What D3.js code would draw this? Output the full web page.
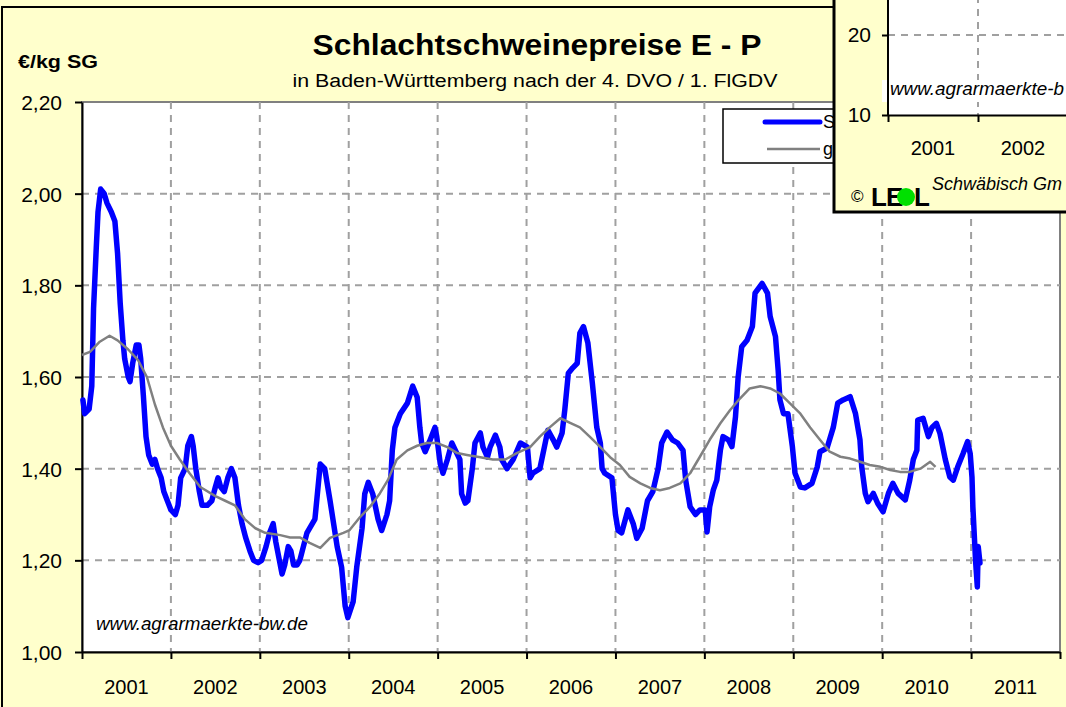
<!DOCTYPE html>
<html>
<head>
<meta charset="utf-8">
<script src="https://cdn.jsdelivr.net/npm/d3@7"></script>
<style>
  html, body { margin: 0; padding: 0; background: #ffffcc; overflow: hidden; }
  text { font-family: "Liberation Sans", Arial, Helvetica, sans-serif; fill: #000; }
</style>
</head>
<body>
<svg id="chart" width="1066" height="707"></svg>
<script>
// ---- data ----------------------------------------------------------------
const years = ["2001","2002","2003","2004","2005","2006","2007","2008","2009","2010","2011"];
const yTickValues = [1.0, 1.2, 1.4, 1.6, 1.8, 2.0, 2.2];

// weekly price (decimal year, €/kg SG)
const priceDates = [
  2001.01,2001.03,2001.08,2001.11,2001.13,2001.16,2001.18,2001.21,2001.25,2001.28,2001.33,2001.37,2001.40,2001.43,2001.46,2001.48,
  2001.52,2001.54,2001.57,2001.61,2001.64,2001.66,2001.69,2001.72,2001.75,2001.79,2001.82,2001.85,2001.89,2001.92,2001.96,
  2002.00,2002.05,2002.08,2002.11,2002.16,2002.19,2002.23,2002.25,2002.28,2002.32,2002.35,2002.41,2002.46,2002.50,2002.53,2002.56,
  2002.60,2002.64,2002.68,2002.72,2002.76,2002.80,2002.84,2002.89,2002.93,2002.98,
  2003.02,2003.07,2003.11,2003.15,2003.18,2003.22,2003.25,2003.28,2003.32,2003.35,2003.38,2003.42,2003.45,2003.53,2003.62,2003.68,
  2003.73,2003.79,2003.87,2003.92,2003.96,2003.99,
  2004.05,2004.09,2004.15,2004.18,2004.22,2004.27,2004.33,2004.37,2004.43,2004.46,2004.49,2004.52,2004.58,2004.66,2004.72,2004.77,
  2004.80,2004.82,2004.86,2004.91,2004.97,2004.99,
  2005.03,2005.06,2005.11,2005.16,2005.20,2005.25,2005.27,2005.31,2005.34,2005.39,2005.42,2005.48,2005.51,2005.56,2005.59,2005.65,
  2005.70,2005.72,2005.78,2005.85,2005.93,
  2006.01,2006.04,2006.07,2006.15,2006.21,2006.24,2006.30,2006.34,2006.40,2006.43,2006.47,2006.52,2006.57,2006.60,2006.64,2006.69,
  2006.74,2006.79,2006.83,2006.85,2006.88,2006.96,
  2007.00,2007.03,2007.07,2007.14,2007.20,2007.24,2007.30,2007.36,2007.42,2007.48,2007.52,2007.58,2007.64,2007.70,2007.76,2007.79,
  2007.84,2007.90,2007.95,
  2008.01,2008.03,2008.06,2008.10,2008.14,2008.18,2008.21,2008.27,2008.31,2008.35,2008.38,2008.42,2008.48,2008.54,2008.57,2008.65,
  2008.71,2008.74,2008.80,2008.83,2008.85,2008.89,2008.94,2008.99,
  2009.02,2009.08,2009.13,2009.21,2009.27,2009.30,2009.38,2009.45,2009.50,2009.56,2009.64,2009.70,2009.75,2009.77,2009.81,2009.84,
  2009.90,2009.95,
  2010.01,2010.07,2010.12,2010.18,2010.26,2010.31,2010.35,2010.39,2010.40,2010.46,2010.52,2010.56,2010.61,2010.65,2010.71,2010.76,
  2010.80,2010.85,2010.91,2010.96,2010.99,
  2011.01,2011.02,2011.05,2011.07,2011.08,2011.10
];
const priceValues = [
  1.55,1.52,1.53,1.58,1.75,1.88,1.96,2.01,2.00,1.98,1.96,1.94,1.87,1.76,1.68,1.64,
  1.60,1.59,1.63,1.67,1.67,1.64,1.56,1.47,1.43,1.41,1.42,1.40,1.38,1.35,1.33,
  1.31,1.30,1.32,1.38,1.40,1.45,1.47,1.45,1.40,1.35,1.32,1.32,1.33,1.36,1.38,1.36,
  1.35,1.38,1.40,1.38,1.32,1.28,1.25,1.22,1.20,1.195,
  1.20,1.23,1.26,1.28,1.24,1.20,1.17,1.19,1.23,1.22,1.19,1.19,1.20,1.26,1.29,1.41,
  1.40,1.33,1.23,1.185,1.10,1.075,
  1.11,1.185,1.27,1.345,1.37,1.345,1.29,1.265,1.30,1.33,1.44,1.49,1.52,1.543,1.58,1.556,
  1.49,1.456,1.437,1.46,1.49,1.47,
  1.41,1.39,1.42,1.456,1.44,1.42,1.345,1.325,1.33,1.40,1.456,1.478,1.447,1.425,1.447,1.473,
  1.447,1.42,1.40,1.42,1.456,
  1.447,1.38,1.39,1.40,1.456,1.484,1.463,1.447,1.478,1.528,1.608,1.62,1.63,1.696,1.71,1.674,
  1.587,1.49,1.456,1.40,1.39,1.38,
  1.30,1.265,1.26,1.31,1.28,1.248,1.27,1.33,1.35,1.40,1.456,1.48,1.463,1.456,1.44,1.375,
  1.317,1.30,1.31,
  1.31,1.262,1.317,1.353,1.375,1.44,1.47,1.463,1.448,1.513,1.60,1.666,1.68,1.71,1.783,1.804,
  1.783,1.732,1.688,1.615,1.55,1.52,1.52,1.448,
  1.39,1.36,1.358,1.368,1.404,1.437,1.445,1.49,1.543,1.55,1.557,1.52,1.463,1.404,1.346,1.328,
  1.346,1.324,
  1.306,1.346,1.368,1.346,1.332,1.375,1.42,1.44,1.506,1.51,1.47,1.49,1.499,1.477,1.42,1.382,
  1.375,1.404,1.433,1.459,1.433,
  1.382,1.317,1.20,1.142,1.23,1.194
];

// moving average (decimal year, €/kg SG)
const avgDates = [
  2001.00,2001.09,2001.20,2001.31,2001.40,2001.52,2001.63,2001.73,2001.82,2001.91,
  2002.00,2002.10,2002.21,2002.33,2002.50,2002.61,2002.72,2002.83,2002.95,
  2003.06,2003.23,2003.34,2003.45,2003.56,2003.68,2003.79,2003.94,
  2004.01,2004.13,2004.24,2004.35,2004.44,2004.54,2004.66,2004.77,2004.88,2004.99,
  2005.11,2005.22,2005.33,2005.48,2005.62,2005.76,2005.89,
  2006.04,2006.15,2006.26,2006.38,2006.49,2006.60,2006.71,2006.83,2006.94,
  2007.05,2007.16,2007.28,2007.39,2007.50,2007.61,2007.73,2007.84,2007.95,
  2008.06,2008.18,2008.29,2008.40,2008.51,2008.63,2008.74,2008.85,2008.96,
  2009.08,2009.19,2009.30,2009.41,2009.53,2009.64,2009.75,2009.86,2009.98,
  2010.09,2010.20,2010.31,2010.43,2010.54,2010.60
];
const avgValues = [
  1.648,1.655,1.677,1.69,1.68,1.66,1.637,1.60,1.54,1.49,
  1.45,1.42,1.39,1.36,1.34,1.33,1.32,1.29,1.27,
  1.26,1.255,1.25,1.25,1.238,1.227,1.249,1.26,
  1.266,1.295,1.317,1.346,1.375,1.42,1.44,1.45,1.456,1.456,
  1.447,1.434,1.43,1.425,1.42,1.42,1.434,
  1.447,1.47,1.49,1.51,1.50,1.49,1.47,1.447,1.425,
  1.408,1.382,1.368,1.358,1.353,1.358,1.368,1.39,1.426,
  1.463,1.499,1.528,1.553,1.575,1.58,1.575,1.564,1.543,
  1.52,1.49,1.463,1.437,1.426,1.422,1.415,1.408,1.404,
  1.397,1.393,1.393,1.40,1.415,1.404
];

// small overlapping chart in the upper right corner
const insetYears = ["2001", "2002", "2003"];
const insetTickValues = [10, 20];

// ---- drawing --------------------------------------------------------------
const svg = d3.select("#chart");
const W = 1066, H = 707;
const plot = { left: 82, right: 1060, top: 102, bottom: 652 };

svg.append("rect").attr("width", W).attr("height", H).attr("fill", "#ffffcc");
// outer chart frame
svg.append("path").attr("d", "M2,712V7H1072").attr("fill", "none")
  .attr("stroke", "#000").attr("stroke-width", 2);

const x = d3.scaleLinear().domain([2001, 2012]).range([plot.left, plot.right]);
const y = d3.scaleLinear().domain([1.0, 2.2]).range([plot.bottom, plot.top]);
const fmt = v => d3.format(".2f")(v).replace(".", ",");

svg.append("rect")
  .attr("x", plot.left).attr("y", plot.top)
  .attr("width", plot.right - plot.left).attr("height", plot.bottom - plot.top)
  .attr("fill", "#fff").attr("stroke", "#808080").attr("stroke-width", 2);

// grid
const grid = svg.append("g").attr("stroke", "#a0a0a0").attr("stroke-width", 2)
  .attr("stroke-dasharray", "7,6");
grid.selectAll("line.h").data(yTickValues.filter(v => v > 1.0 && v < 2.2)).join("line")
  .attr("class", "h")
  .attr("x1", plot.left).attr("x2", plot.right)
  .attr("y1", d => y(d)).attr("y2", d => y(d));
const yearStarts = years.map(d => +d);
grid.selectAll("line.v").data(yearStarts.slice(1)).join("line")
  .attr("class", "v")
  .attr("y1", plot.top).attr("y2", plot.bottom)
  .attr("x1", d => x(d)).attr("x2", d => x(d));

// axes
const yAxis = svg.append("g").attr("transform", `translate(${plot.left},0)`)
  .call(d3.axisLeft(y).tickValues(yTickValues).tickSize(7).tickSizeOuter(0).tickFormat(""));
const xAxis = svg.append("g").attr("transform", `translate(0,${plot.bottom})`)
  .call(d3.axisBottom(x).tickValues(yearStarts.concat([2012])).tickSize(7).tickSizeOuter(0).tickFormat(""));
[yAxis, xAxis].forEach(a => {
  a.select(".domain").attr("stroke", "#000").attr("stroke-width", 2);
  a.selectAll(".tick line").attr("stroke", "#000").attr("stroke-width", 2);
});

svg.append("g").selectAll("text").data(yTickValues).join("text")
  .attr("x", 62).attr("y", d => y(d) + 8)
  .attr("text-anchor", "end").attr("font-size", 21)
  .text(d => fmt(d));

svg.append("g").selectAll("text").data(years).join("text")
  .attr("x", d => x(+d + 0.5)).attr("y", 694)
  .attr("text-anchor", "middle").attr("font-size", 20)
  .text(d => d);

// series
const pricePoints = priceDates.map((d, i) => [d, priceValues[i]]);
const avgPoints = avgDates.map((d, i) => [d, avgValues[i]]);
const line = d3.line().x(d => x(d[0])).y(d => y(d[1]));

svg.append("path").datum(pricePoints).attr("d", line)
  .attr("fill", "none").attr("stroke", "#0000ff").attr("stroke-width", 5.5)
  .attr("stroke-linejoin", "round").attr("stroke-linecap", "round");
svg.append("path").datum(avgPoints).attr("d", line)
  .attr("fill", "none").attr("stroke", "#808080").attr("stroke-width", 2.5)
  .attr("stroke-linejoin", "round");

// titles
svg.append("text").attr("x", 537).attr("y", 55).attr("text-anchor", "middle")
  .attr("font-size", 29).attr("font-weight", "bold")
  .attr("textLength", 449).attr("lengthAdjust", "spacingAndGlyphs")
  .text("Schlachtschweinepreise E - P");
svg.append("text").attr("x", 535).attr("y", 87).attr("text-anchor", "middle")
  .attr("font-size", 18)
  .attr("textLength", 485).attr("lengthAdjust", "spacingAndGlyphs")
  .text("in Baden-Württemberg nach der 4. DVO / 1. FlGDV");
svg.append("text").attr("x", 18).attr("y", 68)
  .attr("font-size", 18).attr("font-weight", "bold")
  .attr("textLength", 80).attr("lengthAdjust", "spacingAndGlyphs")
  .text("€/kg SG");

svg.append("text").attr("x", 96).attr("y", 630)
  .attr("font-size", 18).attr("font-style", "italic")
  .attr("textLength", 212).attr("lengthAdjust", "spacingAndGlyphs")
  .text("www.agrarmaerkte-bw.de");

// legend (its right part lies under the small chart)
svg.append("clipPath").attr("id", "legendClip")
  .append("rect").attr("x", 700).attr("y", 100).attr("width", 134).attr("height", 80);
const legend = svg.append("g").attr("clip-path", "url(#legendClip)");
legend.append("rect").attr("x", 723).attr("y", 109).attr("width", 140).attr("height", 54)
  .attr("fill", "#fff").attr("stroke", "#000").attr("stroke-width", 1.5);
legend.append("line").attr("x1", 765).attr("x2", 820).attr("y1", 122).attr("y2", 122)
  .attr("stroke", "#0000ff").attr("stroke-width", 5).attr("stroke-linecap", "round");
legend.append("line").attr("x1", 767).attr("x2", 820).attr("y1", 149).attr("y2", 149)
  .attr("stroke", "#808080").attr("stroke-width", 2.5);
legend.append("text").attr("x", 823).attr("y", 128).attr("font-size", 18).text("S");
legend.append("text").attr("x", 823).attr("y", 155).attr("font-size", 18).text("g");

// ---- overlapping small chart --------------------------------------------
const inset = svg.append("g");
const ip = { left: 888, right: 1160, top: -30, bottom: 115 };
inset.append("rect").attr("x", 834).attr("y", -30).attr("width", 300).attr("height", 242)
  .attr("fill", "#ffffcc").attr("stroke", "#000").attr("stroke-width", 3);
inset.append("rect").attr("x", ip.left).attr("y", ip.top)
  .attr("width", ip.right - ip.left).attr("height", ip.bottom - ip.top).attr("fill", "#fff");

const ix = d3.scaleLinear().domain([2001, 2004]).range([888, 1158]);
const iy = d3.scaleLinear().domain([10, 20]).range([115, 35]);

const igrid = inset.append("g").attr("stroke", "#a0a0a0").attr("stroke-width", 2)
  .attr("stroke-dasharray", "7,6");
igrid.append("line").attr("x1", ip.left).attr("x2", ip.right)
  .attr("y1", iy(20)).attr("y2", iy(20));
igrid.selectAll("line.v").data([2002, 2003]).join("line").attr("class", "v")
  .attr("x1", d => ix(d)).attr("x2", d => ix(d)).attr("y1", ip.top).attr("y2", ip.bottom);

// white label box behind the site address
inset.append("rect").attr("x", 882).attr("y", 80).attr("width", 200).attr("height", 22).attr("fill", "#fff");
inset.append("text").attr("x", 890).attr("y", 95)
  .attr("font-size", 18).attr("font-style", "italic")
  .attr("textLength", 174).attr("lengthAdjust", "spacingAndGlyphs")
  .text("www.agrarmaerkte-b");

const iyAxis = inset.append("g").attr("transform", `translate(${ip.left},0)`)
  .call(d3.axisLeft(iy).tickValues(insetTickValues).tickSize(6).tickSizeOuter(0).tickFormat(""));
const ixAxis = inset.append("g").attr("transform", `translate(0,${ip.bottom})`)
  .call(d3.axisBottom(ix).tickValues([2001, 2002, 2003]).tickSize(7).tickSizeOuter(0).tickFormat(""));
iyAxis.select(".domain").attr("d", `M0,${ip.top}V${ip.bottom}`);
[iyAxis, ixAxis].forEach(a => {
  a.select(".domain").attr("stroke", "#000").attr("stroke-width", 2);
  a.selectAll(".tick line").attr("stroke", "#000").attr("stroke-width", 2);
});
inset.append("g").selectAll("text").data(insetTickValues).join("text")
  .attr("x", 871).attr("y", d => iy(d) + 7).attr("text-anchor", "end").attr("font-size", 21)
  .text(d => d);
inset.append("g").selectAll("text").data(insetYears.slice(0, 2)).join("text")
  .attr("x", d => ix(+d + 0.5)).attr("y", 155).attr("text-anchor", "middle").attr("font-size", 20)
  .text(d => d);

// LEL logo and place
inset.append("text").attr("x", 851).attr("y", 202).attr("font-size", 17).text("©");
inset.append("text").attr("x", 871).attr("y", 206).attr("font-size", 26).attr("font-weight", "bold").text("L");
inset.append("text").attr("x", 886).attr("y", 206).attr("font-size", 26).attr("font-weight", "bold").text("E");
inset.append("circle").attr("cx", 906).attr("cy", 197).attr("r", 9).attr("fill", "#00e000");
inset.append("text").attr("x", 914).attr("y", 206).attr("font-size", 26).attr("font-weight", "bold").text("L");
inset.append("text").attr("x", 932).attr("y", 190).attr("font-size", 19).attr("font-style", "italic")
  .attr("textLength", 130).attr("lengthAdjust", "spacingAndGlyphs")
  .text("Schwäbisch Gm");
</script>
</body>
</html>
